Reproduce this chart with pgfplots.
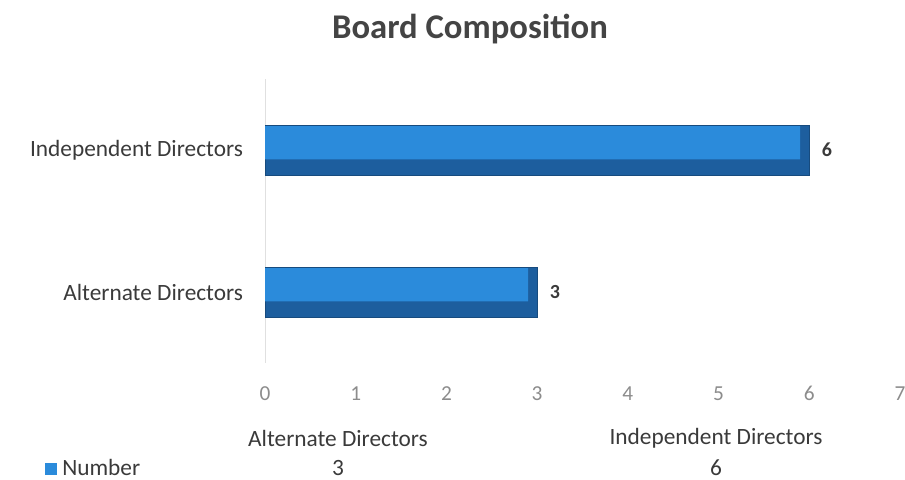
\documentclass[border=0pt]{standalone}
\usepackage{pgfplots}
\pgfplotsset{compat=1.18}
\usepackage{fontspec}
\setmainfont{Carlito}
\definecolor{barlight}{HTML}{2B8BDB}
\definecolor{bardark}{HTML}{1D5E9E}
\definecolor{txt}{HTML}{3A3A3A}
\definecolor{tick}{HTML}{8C8C8C}
\begin{document}
\begin{tikzpicture}[x=0.75pt,y=0.75pt]
  % page frame 905 x 479 px
  \path[use as bounding box] (0,0) rectangle (905,479);
  \node[text=txt!95, font=\fontsize{26}{30}\selectfont\bfseries] at (470,450) {Board Composition};
  \begin{axis}[
      at={(198.75pt,87pt)}, anchor=south west,
      scale only axis,
      width=476.25pt, height=213pt,
      xmin=0, xmax=7, ymin=-0.5, ymax=1.5,
      xtick={0,1,...,7},
      ytick={0,1},
      yticklabels={Alternate Directors, Independent Directors},
      axis lines=left,
      x axis line style={draw=none},
      y axis line style={draw=black!12, -},
      major tick length=0pt,
      xticklabel style={text=tick, font=\fontsize{16}{18}\selectfont, yshift=-14pt},
      yticklabel style={text=txt, font=\fontsize{17.5}{20}\selectfont, xshift=-13pt},
      /pgf/number format/assume math mode=true,
      xbar, bar width=37.5pt,
    ]
    \addplot[fill=bardark, draw=bardark!80!black, line width=0.4pt, bar shift=0pt,
      nodes near coords,
      every node near coord/.append style={text=txt, font=\fontsize{15}{18}\selectfont\bfseries, xshift=6pt}]
      coordinates {(3,0) (6,1)};
    \addplot[fill=barlight, draw=none, bar width=25pt, bar shift=5.5pt]
      coordinates {(2.9,0) (5.9,1)};
  \end{axis}
  % data table below the chart
  \begin{scope}[font=\fontsize{17.5}{20}\selectfont, text=txt]
    \node at (338,41) {Alternate Directors};
    \node at (716,41) {Independent Directors};
    \node[anchor=base west, inner sep=0pt] at (62,4) {Number};
    \fill[barlight] (45,4.5) rectangle (57,16.5);
    \node[anchor=base, inner sep=0pt] at (338,4) {3};
    \node[anchor=base, inner sep=0pt] at (716,4) {6};
  \end{scope}
\end{tikzpicture}
\end{document}
